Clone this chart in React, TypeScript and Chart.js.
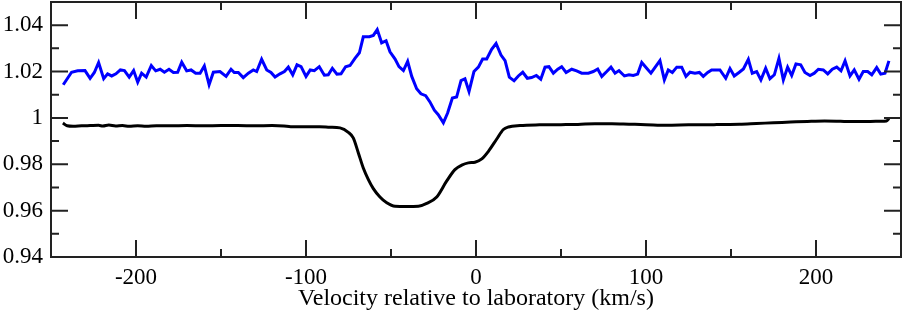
import React, { useEffect, useRef } from "react";
import { Chart, registerables } from "chart.js";

Chart.register(...registerables);

// Blue spectrum (upper, noisy)
const blueVelocity = [
  -242.8, -237.9, -234.3, -230.0, -227.0, -224.5, -222.0, -219.0, -216.7, -214.3,
  -211.8, -209.2, -206.8, -204.0, -201.4, -199.0, -196.7, -194.0, -191.0, -188.4,
  -185.8, -183.3, -180.6, -178.0, -175.5, -173.1, -170.2, -167.6, -164.9, -162.3,
  -159.8, -157.0, -154.5, -150.6, -147.0, -144.1, -142.2, -139.8, -136.9, -133.9,
  -131.0, -129.0, -126.1, -123.1, -120.6, -118.2, -115.3, -112.7, -110.4, -107.8,
  -105.3, -102.9, -100.0, -97.5, -95.1, -92.2, -89.2, -86.9, -84.5, -81.8,
  -79.4, -76.7, -74.1, -71.2, -68.6, -66.3, -62.7, -60.4, -58.1, -55.5,
  -52.9, -50.6, -47.6, -45.3, -42.7, -40.2, -37.8, -34.9, -32.4, -29.6,
  -27.1, -24.5, -22.2, -19.2, -16.7, -13.9, -11.4, -8.8, -6.5, -4.1,
  -1.2, 1.4, 3.9, 6.3, 9.2, 11.8, 14.7, 17.1, 19.6, 22.4,
  24.9, 27.5, 30.2, 32.7, 35.5, 38.1, 40.6, 42.9, 45.5, 48.1,
  50.4, 53.0, 56.3, 59.2, 62.2, 66.1, 69.0, 71.6, 74.0, 76.9,
  79.4, 81.8, 84.1, 87.3, 90.0, 92.5, 95.1, 97.5, 100.4, 102.9,
  108.2, 110.8, 113.1, 115.5, 118.1, 121.0, 123.5, 125.9, 128.8, 131.4,
  133.7, 136.3, 138.6, 143.5, 146.9, 149.4, 151.9, 154.7, 157.3, 160.2,
  162.5, 165.1, 167.6, 170.4, 172.9, 175.5, 178.2, 180.8, 183.3, 185.7,
  188.2, 191.0, 193.5, 196.5, 199.0, 201.4, 204.3, 206.9, 209.6, 212.2,
  214.7, 217.1, 220.0, 222.5, 225.3, 227.8, 230.4, 232.8, 235.7, 238.1,
  240.6, 242.9,
];
const blueFlux = [
  1.0143, 1.0197, 1.0203, 1.0204, 1.0171, 1.0196, 1.0239, 1.0169, 1.019, 1.0181,
  1.019, 1.0207, 1.0204, 1.0176, 1.0204, 1.0154, 1.0193, 1.0176, 1.0226, 1.0203,
  1.021, 1.0197, 1.021, 1.0196, 1.0197, 1.024, 1.0203, 1.0207, 1.0193, 1.0193,
  1.0224, 1.0143, 1.0197, 1.02, 1.0179, 1.021, 1.0196, 1.0196, 1.0174, 1.0193,
  1.0207, 1.02, 1.0253, 1.0207, 1.0196, 1.0176, 1.019, 1.02, 1.0219, 1.0186,
  1.0229, 1.0221, 1.0179, 1.0207, 1.0204, 1.0221, 1.0184, 1.0186, 1.0214, 1.0189,
  1.019, 1.0221, 1.0226, 1.0257, 1.0281, 1.035, 1.035, 1.0356, 1.0381, 1.0324,
  1.0333, 1.0285, 1.0254, 1.0221, 1.0204, 1.0244, 1.0179, 1.0126, 1.0104, 1.0096,
  1.0069, 1.0033, 1.0014, 0.9979, 1.0021, 1.0086, 1.009, 1.0161, 1.0169, 1.0114,
  1.02, 1.0219, 1.0254, 1.0254, 1.0296, 1.0321, 1.0271, 1.0247, 1.0176, 1.016,
  1.0181, 1.0197, 1.0171, 1.0174, 1.0183, 1.0167, 1.0219, 1.0221, 1.0193, 1.021,
  1.0221, 1.0196, 1.021, 1.0203, 1.0193, 1.0193, 1.02, 1.0211, 1.0179, 1.02,
  1.0219, 1.0193, 1.0204, 1.0181, 1.0186, 1.0183, 1.0189, 1.0239, 1.0214, 1.0193,
  1.0247, 1.0164, 1.0207, 1.0196, 1.0219, 1.0219, 1.0179, 1.0197, 1.0193, 1.0196,
  1.0179, 1.0196, 1.0207, 1.0207, 1.0171, 1.0213, 1.0181, 1.0196, 1.0211, 1.0253,
  1.0193, 1.02, 1.0164, 1.0214, 1.0169, 1.0186, 1.0257, 1.0164, 1.0219, 1.0183,
  1.0233, 1.0229, 1.0196, 1.0183, 1.0193, 1.021, 1.0207, 1.019, 1.021, 1.0219,
  1.0203, 1.0246, 1.0181, 1.0207, 1.0167, 1.02, 1.02, 1.0186, 1.0217, 1.0189,
  1.0193, 1.0246,
];

// Black spectrum (lower, smooth absorption)
const blackVelocity = [
  -243.0, -240.5, -237.0, -232.0, -227.0, -222.0, -219.5, -216.0, -212.0, -208.0,
  -204.0, -199.0, -194.0, -188.0, -180.0, -170.0, -160.0, -150.0, -140.0, -130.0,
  -120.0, -113.0, -109.0, -100.0, -92.0, -86.0, -80.0, -75.1, -72.2, -69.2,
  -66.3, -63.3, -60.4, -56.5, -52.5, -47.6, -40.8, -33.9, -29.0, -23.1,
  -17.3, -12.4, -8.4, -4.5, -0.6, 3.4, 7.3, 12.2, 16.1, 19.1,
  25.9, 37.3, 50.0, 60.0, 70.0, 80.0, 90.0, 100.0, 112.0, 125.0,
  140.0, 155.0, 165.0, 175.0, 185.0, 195.0, 205.0, 212.0, 218.0, 225.0,
  232.0, 238.0, 241.5, 243.0,
];
const blackFlux = [
  0.9978, 0.9966, 0.9964, 0.9966, 0.9967, 0.9968, 0.9965, 0.9969, 0.9965, 0.9967,
  0.9964, 0.9966, 0.9964, 0.9966, 0.9966, 0.9967, 0.9966, 0.9967, 0.9967, 0.9966,
  0.9967, 0.9965, 0.9962, 0.9962, 0.9962, 0.996, 0.9957, 0.9938, 0.9914, 0.9849,
  0.9784, 0.9734, 0.9695, 0.9659, 0.9634, 0.9619, 0.9618, 0.9619, 0.9631, 0.9659,
  0.9727, 0.9777, 0.9796, 0.9806, 0.9809, 0.9823, 0.9856, 0.9909, 0.995, 0.9961,
  0.9967, 0.997, 0.9971, 0.9972, 0.9975, 0.9975, 0.9973, 0.9971, 0.9968, 0.997,
  0.9971, 0.9973, 0.9976, 0.9979, 0.9982, 0.9985, 0.9987, 0.9986, 0.9984, 0.9985,
  0.9985, 0.9986, 0.9987, 0.9998,
];

const xTickValues = [-200, -100, 0, 100, 200];
const xMinorValues = [-150, -50, 50, 150];
const yTickValues = [0.94, 0.96, 0.98, 1, 1.02, 1.04];
const yMinorValues = [0.95, 0.97, 0.99, 1.01, 1.03];
const xTitle = "Velocity relative to laboratory (km/s)";

const FONT = "'Liberation Serif', 'Times New Roman', Times, serif";

const frameTicks = {
  id: "frameTicks",
  afterDatasetsDraw(chart: any) {
    const { ctx, chartArea: a, scales } = chart;
    const xs = scales.x;
    const ys = scales.y;
    const MAJ = 17;
    const MIN = 8;
    ctx.save();
    ctx.strokeStyle = "#222";
    ctx.lineWidth = 2;
    ctx.beginPath();
    const xt = (vals: number[], len: number) => {
      for (const v of vals) {
        const px = xs.getPixelForValue(v);
        ctx.moveTo(px, a.bottom);
        ctx.lineTo(px, a.bottom - len);
        ctx.moveTo(px, a.top);
        ctx.lineTo(px, a.top + len);
      }
    };
    const yt = (vals: number[], len: number) => {
      for (const v of vals) {
        const py = ys.getPixelForValue(v);
        ctx.moveTo(a.left, py);
        ctx.lineTo(a.left + len, py);
        ctx.moveTo(a.right, py);
        ctx.lineTo(a.right - len, py);
      }
    };
    xt(xTickValues, MAJ);
    xt(xMinorValues, MIN);
    yt(yTickValues, MAJ);
    yt(yMinorValues, MIN);
    ctx.stroke();
    ctx.lineWidth = 2;
    ctx.strokeRect(a.left, a.top, a.right - a.left, a.bottom - a.top);
    ctx.restore();
  },
};

export default function App() {
  const canvasRef = useRef<HTMLCanvasElement | null>(null);

  useEffect(() => {
    const canvas = canvasRef.current;
    if (!canvas) return;
    const blueData = blueVelocity.map((v, i) => ({ x: v, y: blueFlux[i] }));
    const blackData = blackVelocity.map((v, i) => ({ x: v, y: blackFlux[i] }));

    const chart = new Chart(canvas, {
      type: "line",
      data: {
        datasets: [
          {
            data: blackData,
            borderColor: "#000000",
            borderWidth: 3,
            pointRadius: 0,
            cubicInterpolationMode: "monotone",
            fill: false,
          },
          {
            data: blueData,
            borderColor: "#0000ff",
            borderWidth: 3,
            pointRadius: 0,
            tension: 0,
            fill: false,
          },
        ],
      },
      options: {
        animation: false,
        responsive: false,
        maintainAspectRatio: false,
        layout: { padding: { top: 2, right: 3, left: 0, bottom: 0 } },
        plugins: {
          legend: { display: false },
          tooltip: { enabled: false },
        },
        scales: {
          x: {
            type: "linear",
            min: -250,
            max: 250,
            afterBuildTicks: (s: any) => {
              s.ticks = xTickValues.map((v) => ({ value: v }));
            },
            afterFit: (s: any) => {
              s.height = 57;
              s.paddingLeft = 0;
              s.paddingRight = 0;
            },
            grid: { display: false, drawTicks: false },
            border: { display: false },
            ticks: {
              padding: 7,
              color: "#000",
              maxRotation: 0,
              autoSkip: false,
              font: { family: FONT, size: 23 },
              callback: (v: any) => String(v),
            },
            title: {
              display: true,
              text: xTitle,
              color: "#000",
              font: { family: FONT, size: 24 },
              padding: { top: 0, bottom: 1 },
            },
          },
          y: {
            type: "linear",
            min: 0.94,
            max: 1.05,
            afterBuildTicks: (s: any) => {
              s.ticks = yTickValues.map((v) => ({ value: v }));
            },
            afterFit: (s: any) => {
              s.width = 51;
              s.paddingTop = 0;
              s.paddingBottom = 0;
            },
            grid: { display: false, drawTicks: false },
            border: { display: false },
            ticks: {
              padding: 8,
              color: "#000",
              autoSkip: false,
              font: { family: FONT, size: 23 },
              callback: (v: any) => String(Number(Number(v).toFixed(2))),
            },
          },
        },
      },
      plugins: [frameTicks],
    } as any);

    return () => chart.destroy();
  }, []);

  return (
    <div style={{ position: "absolute", left: 0, top: 0, width: 904, height: 314, background: "#fff" }}>
      <canvas ref={canvasRef} width={904} height={314} style={{ display: "block", width: 904, height: 314 }} />
    </div>
  );
}
